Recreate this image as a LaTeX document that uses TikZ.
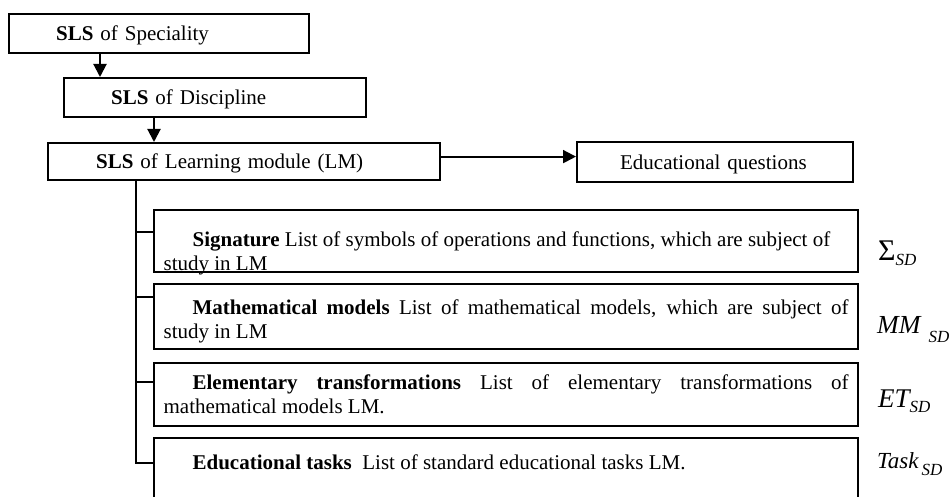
\documentclass[tikz,border=0pt]{standalone}
\usepackage{fontspec}
\setmainfont{Liberation Serif}
\usetikzlibrary{arrows.meta}
\begin{document}
\begin{tikzpicture}[x=1pt,y=-1pt,line join=miter,font=\fontsize{21pt}{24pt}\selectfont,
  levelbox/.style={draw,line width=2.2pt,anchor=north west,inner ysep=0pt},
  topbox/.style={levelbox,inner xsep=47pt,align=left,text depth=0pt},
  listbox/.style={levelbox,minimum width=704pt,text width=685pt,inner xsep=9.5pt,align=justify},
  mark label/.style={anchor=base west,inner sep=0pt},
  link/.style={line width=2pt},
  >={Triangle[length=13pt,width=13pt]}]
\def\subSD#1{\raisebox{-#1}{\fontsize{17pt}{17pt}\selectfont\itshape SD}}
\useasboundingbox (0,0) rectangle (950,497);
\clip (0,0) rectangle (950,497);
\node[topbox,text width=206pt,minimum height=39pt] (spec) at (8,13) {\textbf{SLS} of Speciality};
\node[topbox,text width=208pt,minimum height=39pt] (disc) at (63,77) {\textbf{SLS} of Discipline};
\node[topbox,text width=296pt,inner xsep=48pt,minimum height=37pt] (lm) at (47,142) {\textbf{SLS} of Learning module (LM)};
\node[topbox,text width=190pt,inner xsep=43pt,minimum height=40pt] (edu) at (576,141) {Educational questions};
\node[listbox,minimum height=62pt,text depth=4.5pt] (sig) at (153,209) {\hspace*{29pt}\textbf{Signature} List of symbols of operations and functions, which are subject of\newline study in LM};
\node[listbox,minimum height=65pt,text depth=19.5pt] (mm) at (153,283) {\hspace*{29pt}\textbf{Mathematical models} List of mathematical models, which are subject of\linebreak study in LM};
\node[listbox,minimum height=63pt] (et) at (153,362) {\hspace*{29pt}\textbf{Elementary transformations} List of elementary transformations of\linebreak mathematical models LM.};
\node[listbox,minimum height=68pt,text depth=20pt] (task) at (153,437) {\hspace*{29pt}\textbf{Educational tasks}\ \ List of standard educational tasks LM.};
\node[mark label,font=\fontsize{30pt}{30pt}\selectfont] (sigl) at (878,260) {Σ\subSD{5pt}};
\node[mark label,font=\fontsize{26pt}{26pt}\selectfont\itshape] (mml) at (877,333) {MM\hspace{8pt}\subSD{9pt}};
\node[mark label,font=\fontsize{27pt}{27pt}\selectfont\itshape] (etl) at (878,407) {ET\subSD{5pt}};
\node[mark label,font=\fontsize{23pt}{23pt}\selectfont\itshape] (taskl) at (877,468) {Task\hspace{3pt}\subSD{7pt}};
\coordinate (a1) at ([xshift=92pt]spec.south west);
\coordinate (a2) at ([xshift=91pt]disc.south west);
\draw[link,->] (a1) -- (a1 |- disc.north);
\draw[link,->] (a2) -- (a2 |- lm.north);
\draw[link,->] ([yshift=5pt]lm.east) -- ([yshift=5pt]lm.east -| edu.west);
\coordinate (t0) at ([xshift=89pt]lm.south west);
\foreach \b/\d in {sig/23,mm/14,et/20,task/26}
  \coordinate (s\b) at ([yshift=-\d pt]\b.north west);
\draw[link] (t0) -- (t0 |- stask) -- (stask);
\foreach \b in {sig,mm,et}
  \draw[link] (t0 |- s\b) -- (s\b);
\end{tikzpicture}
\end{document}
